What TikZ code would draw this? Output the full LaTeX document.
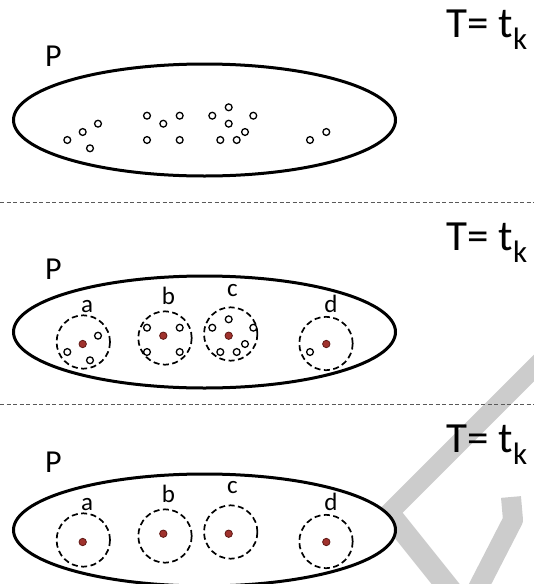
\documentclass[tikz,border=0pt]{standalone}
\usepackage{fontspec}
\setmainfont{Carlito}
\definecolor{dotred}{RGB}{160,50,45}
\definecolor{dotedge}{RGB}{95,25,22}
\definecolor{wmgray}{RGB}{204,204,204}
\begin{document}
\begin{tikzpicture}[x=1pt,y=-1pt,
  pop/.style={draw=black, line width=3pt, fill=white},
  ring/.style={draw=black, line width=1.7pt, dash pattern=on 6pt off 3.5pt},
  smallpt/.style={draw=black, line width=1.3pt, fill=white},
  ctr/.style={draw=dotedge, line width=0.8pt, fill=dotred},
  sep/.style={draw=black!65, line width=0.9pt, dash pattern=on 4pt off 2.5pt},
  wm/.style={draw=wmgray},
  ttext/.style={font=\fontsize{43}{43}\selectfont, inner sep=0pt, anchor=base west},
  ptext/.style={font=\fontsize{32}{32}\selectfont, inner sep=0pt, anchor=base west},
  ltext/.style={font=\fontsize{25}{25}\selectfont, inner sep=0pt, anchor=base},
]
\useasboundingbox (0,0) rectangle (534,584);
% watermark (behind everything)
\begin{scope}
  \clip (0,0) rectangle (534,584);
  \draw[wm, line width=19pt] (552,350) -- (381,521);
  \draw[wm, line width=22pt] (388,512) -- (452,592);
  \draw[wm, line width=20pt, line join=round] (511,497) -- (513,520) -- (476,592);
\end{scope}
% separators
\coordinate (s1l) at (0,202); \coordinate (s1r) at (534,202);
\coordinate (s2l) at (0,404); \coordinate (s2r) at (534,404);
\draw[sep] (s1l) -- (s1r);
\draw[sep] (s2l) -- (s2r);
% ---------- panel 1 ----------
\begin{scope}[shift={(0,120)}]
  \draw[pop] (204.5,0) ellipse [x radius=191pt, y radius=56pt];
  \foreach \px/\py in {67.3/20, 82.7/12, 98/3.7, 90/28.3,
      147/-4.3, 163.3/3.7, 179.7/-4.3, 147/20, 179.7/20,
      212.3/-4.3, 228.7/-12.7, 253.3/-4.3, 228.7/3.7, 245/12, 220.3/20, 236.7/20,
      310/20, 326.3/12}
    \draw[smallpt] (\px,\py) circle[radius=3.4pt];
\end{scope}
% ---------- panel 2 ----------
\begin{scope}[shift={(0,332)}]
  \draw[pop] (204.5,0) ellipse [x radius=191pt, y radius=56pt];
  \foreach \cx/\cy in {83.3/10, 165/6, 230.7/2, 326/11.5}
    \draw[ring] (\cx,\cy) circle[radius=26.7pt];
  \foreach \px/\py in {67.3/20, 98/3.7, 90/28.3,
      147/-4.3, 179.7/-4.3, 147/20, 179.7/20,
      212.3/-4.3, 228.7/-12.7, 253.3/-4.3, 245/12, 220.3/20, 236.7/20,
      310/20}
    \draw[smallpt] (\px,\py) circle[radius=3.4pt];
  \foreach \px/\py in {82.7/12, 163.3/3.7, 228.7/3.7, 326.3/12}
    \draw[ctr] (\px,\py) circle[radius=3.7pt];
  \node[ltext] (la2) at (87,-20) {a};
  \node[ltext] (lb2) at (168.5,-28) {b};
  \node[ltext] (lc2) at (232.5,-36) {c};
  \node[ltext] (ld2) at (331,-20) {d};
\end{scope}
% ---------- panel 3 ----------
\begin{scope}[shift={(0,530)}]
  \draw[pop] (204.5,0) ellipse [x radius=191pt, y radius=56pt];
  \foreach \cx/\cy in {83.3/10, 165/6, 230.7/2, 326/11.5}
    \draw[ring] (\cx,\cy) circle[radius=26.7pt];
  \foreach \px/\py in {82.7/12, 163.3/3.7, 228.7/3.7, 326.3/12}
    \draw[ctr] (\px,\py) circle[radius=3.7pt];
  \node[ltext] (la3) at (87,-20) {a};
  \node[ltext] (lb3) at (168.5,-28) {b};
  \node[ltext] (lc3) at (232.5,-37) {c};
  \node[ltext] (ld3) at (331,-20) {d};
\end{scope}
% texts
\node[ptext] (p1) at (45,66) {P};
\node[ptext] (p2) at (45,279) {P};
\node[ptext] (p3) at (45,472.5) {P};
\node[ttext] (t1) at (446.5,37) {T= t\raisebox{-12pt}{\fontsize{31}{31}\selectfont k}};
\node[ttext] (t2) at (446.5,250) {T= t\raisebox{-12pt}{\fontsize{31}{31}\selectfont k}};
\node[ttext] (t3) at (446.5,452) {T= t\raisebox{-12pt}{\fontsize{31}{31}\selectfont k}};
\end{tikzpicture}
\end{document}
